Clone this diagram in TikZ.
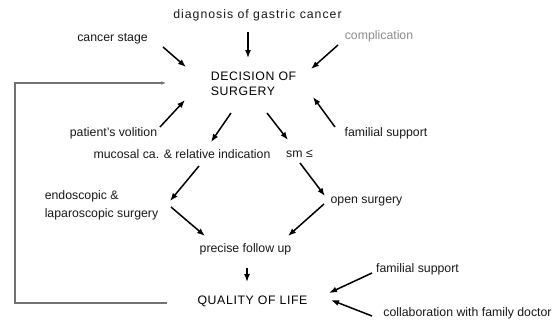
\documentclass[tikz,border=0pt]{standalone}
\usepackage{fontspec}
\setmainfont{Liberation Sans}
\newfontfamily\widefont[LetterSpace=8]{Liberation Sans}
\newfontfamily\capsfont[LetterSpace=5]{Liberation Sans}
\usepackage{xcolor}
\usepackage{tikz}
\usetikzlibrary{positioning, arrows.meta}

\begin{document}
\begin{tikzpicture}[x = 1pt, y = -1pt, on grid]
            \tikzstyle{factor} = [inner sep = 1pt, font = \fontsize{12.3}{18}\selectfont, text = black!90, align = left]
            \tikzstyle{faded} = [factor, text = black!45]
            \tikzstyle{heading} = [inner sep = 1pt, font = \capsfont\fontsize{12.3}{15}\selectfont, align = left]
            \tikzstyle{arr} = [line width = 1.5pt, -{Latex[length = 8pt, width = 6pt]}]
            \tikzstyle{loopback} = [line width = 1.2pt, black!55, -{Latex[length = 6pt, width = 3.5pt]}]
            \useasboundingbox (0, 0) rectangle (558, 322);

            \node [heading] (dec) at (253.5, 83.5) {DECISION OF\\SURGERY};

            \node [factor, font = \widefont\fontsize{12.3}{15}\selectfont, above right = 68.5pt and 4pt of dec] (diag) {diagnosis of gastric cancer};
            \node [factor, above left = 44.5pt and 141pt of dec] (stage) {cancer stage};
            \node [faded, above right = 47.5pt and 125.5pt of dec] (compl) {complication};
            \node [factor, below left = 49.5pt and 140pt of dec] (vol) {patient's volition};
            \node [factor, below right = 49.5pt and 132.5pt of dec] (fam1) {familial support};

            \node [factor, below left = 70.5pt and 71.5pt of dec] (muc) {mucosal ca. \& relative indication};
            \node [factor, right = 117.5pt of muc] (sm) {sm ≤};

            \node [factor, below left = 51pt and 80.5pt of muc] (endo) {endoscopic \&\\laparoscopic surgery};
            \node [factor, below right = 47pt and 67pt of sm] (open) {open surgery};

            \node [factor, below right = 95pt and 63.5pt of muc] (prec) {precise follow up};
            \node [heading, below right = 52pt and 7pt of prec] (qol) {QUALITY OF LIFE};
            \node [factor, above right = 32pt and 165pt of qol] (fam2) {familial support};
            \node [factor, below right = 12pt and 215pt of qol] (collab) {collaboration with family doctor};

            \draw [arr] ([shift = {(-9.5, 17)}]diag.center) to ([shift = {(-5.5, -25.5)}]dec.center);
            \draw [arr] ([shift = {(50.5, 8)}]stage.center) to ([shift = {(-67.5, -16.5)}]dec.center);
            \draw [arr] ([shift = {(-41, 9)}]compl.center) to ([shift = {(57.5, -14.5)}]dec.center);
            \draw [arr] ([shift = {(46.5, -6)}]vol.center) to ([shift = {(-68.5, 16.5)}]dec.center);
            \draw [arr] ([shift = {(-51, -6)}]fam1.center) to ([shift = {(59.5, 13.5)}]dec.center);
            \draw [arr] ([shift = {(-22.5, 29.5)}]dec.center) to ([shift = {(29, -12)}]muc.center);
            \draw [arr] ([shift = {(13.5, 29.5)}]dec.center) to ([shift = {(-11.5, -14)}]sm.center);
            \draw [arr] ([shift = {(17, 12)}]muc.center) to ([shift = {(68.5, -4)}]endo.center);
            \draw [arr] ([shift = {(0.5, 9)}]sm.center) to ([shift = {(-41.5, -5)}]open.center);
            \draw [arr] ([shift = {(69.5, 2)}]endo.center) to ([shift = {(-40.5, -13)}]prec.center);
            \draw [arr] ([shift = {(-42.5, 3)}]open.center) to ([shift = {(42.5, -13)}]prec.center);
            \draw [arr] ([shift = {(1.5, 19)}]prec.center) to ([shift = {(-5.5, -19)}]qol.center);
            \draw [arr] ([shift = {(-45.5, 4)}]fam2.center) to ([shift = {(76.5, -8)}]qol.center);
            \draw [arr] ([shift = {(-95.5, 3)}]collab.center) to ([shift = {(78.5, -1)}]qol.center);
            \draw [loopback] ([shift = {(-85.5, 2)}]qol.center) -| ([shift = {(-238.5, -0.5)}]dec.center) to ([shift = {(-86.5, -0.5)}]dec.center);
        \end{tikzpicture}
\end{document}
